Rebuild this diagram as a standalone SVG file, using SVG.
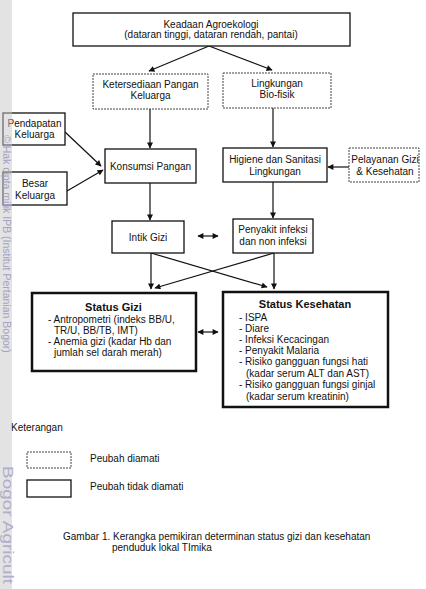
<svg xmlns="http://www.w3.org/2000/svg" width="426" height="589" viewBox="0 0 426 589">
<defs>
<style>
text{font-family:"Liberation Sans",Arial,sans-serif;font-size:10px;fill:#111}
.c{text-anchor:middle}
.b{font-weight:bold;font-size:11px}
.box{fill:#fff;stroke:#111;stroke-width:1.3}
.dash{fill:#fff;stroke:#444;stroke-width:1;stroke-dasharray:2 1}
.thick{fill:#fff;stroke:#111;stroke-width:2.5}
.ln{stroke:#111;stroke-width:1.2;fill:none}
.wm{fill:#a4a2c2;font-size:10.5px}
</style>
<marker id="ah" viewBox="0 0 10 10" refX="9" refY="5" markerWidth="7" markerHeight="6" markerUnits="userSpaceOnUse" orient="auto-start-reverse">
<path d="M0,0 L10,5 L0,10 z" fill="#111"/>
</marker>
</defs>
<rect x="0" y="0" width="426" height="589" fill="#fff"/>

<g id="connectors">
<line class="ln" x1="209" y1="46" x2="149" y2="71" marker-end="url(#ah)"/>
<line class="ln" x1="209" y1="46" x2="272" y2="70" marker-end="url(#ah)"/>
<line class="ln" x1="150" y1="109" x2="150" y2="148" marker-end="url(#ah)"/>
<line class="ln" x1="273" y1="108" x2="273" y2="147" marker-end="url(#ah)"/>
<line class="ln" x1="65" y1="132" x2="101" y2="166" marker-end="url(#ah)"/>
<line class="ln" x1="67" y1="191" x2="103" y2="170" marker-end="url(#ah)"/>
<line class="ln" x1="349" y1="167" x2="328" y2="167" marker-end="url(#ah)"/>
<line class="ln" x1="150" y1="183" x2="150" y2="220" marker-end="url(#ah)"/>
<line class="ln" x1="273" y1="182" x2="273" y2="218" marker-end="url(#ah)"/>
<line class="ln" x1="198" y1="236" x2="218" y2="236" marker-start="url(#ah)" marker-end="url(#ah)"/>
<line class="ln" x1="151" y1="253" x2="151" y2="289" marker-end="url(#ah)"/>
<line class="ln" x1="274" y1="253" x2="274" y2="289" marker-end="url(#ah)"/>
<line class="ln" x1="151" y1="253" x2="267" y2="287" marker-end="url(#ah)"/>
<line class="ln" x1="274" y1="253" x2="155" y2="288" marker-end="url(#ah)"/>
<line class="ln" x1="198" y1="332" x2="218" y2="332" marker-start="url(#ah)" marker-end="url(#ah)"/>
</g>

<g id="agroekologi">
<rect class="box" x="73" y="13" width="277" height="33"/>
<text class="c" x="211" y="27.5">Keadaan Agroekologi</text>
<text class="c" x="211" y="38">(dataran tinggi, dataran rendah, pantai)</text>
</g>
<g id="ketersediaan">
<rect class="dash" x="93" y="74" width="115" height="35"/>
<text class="c" x="150.5" y="87.5">Ketersediaan Pangan</text>
<text class="c" x="150.5" y="99">Keluarga</text>
</g>
<g id="lingkungan">
<rect class="dash" x="223" y="73" width="108" height="35"/>
<text class="c" x="277" y="86.5">Lingkungan</text>
<text class="c" x="277" y="98">Bio-fisik</text>
</g>
<g id="pendapatan">
<rect class="box" x="3" y="113" width="62" height="32"/>
<text class="c" x="34.5" y="126.5">Pendapatan</text>
<text class="c" x="34.5" y="138">Keluarga</text>
</g>
<g id="besar">
<rect class="box" x="3" y="172" width="64" height="33"/>
<text class="c" x="35" y="186.5">Besar</text>
<text class="c" x="35" y="198.5">Keluarga</text>
</g>
<g id="konsumsi">
<rect class="box" x="105" y="149" width="91" height="34"/>
<text class="c" x="150.5" y="169.5">Konsumsi Pangan</text>
</g>
<g id="higiene">
<rect class="box" x="223" y="148" width="104" height="34"/>
<text class="c" x="275" y="162.5">Higiene dan Sanitasi</text>
<text class="c" x="275" y="174.5">Lingkungan</text>
</g>
<g id="pelayanan">
<rect class="dash" x="349" y="148" width="70" height="34"/>
<text class="c" x="385" y="162.5">Pelayanan Gizi</text>
<text class="c" x="385" y="174.5">&amp; Kesehatan</text>
</g>
<g id="intik">
<rect class="box" x="112" y="221" width="72" height="32"/>
<text class="c" x="148" y="240.5">Intik Gizi</text>
</g>
<g id="penyakit">
<rect class="box" x="233" y="219" width="80" height="34"/>
<text class="c" x="273" y="232.5">Penyakit infeksi</text>
<text class="c" x="273" y="244.5">dan non infeksi</text>
</g>
<g id="status-gizi">
<rect class="thick" x="32" y="293" width="164" height="78"/>
<text class="c b" x="113.5" y="311">Status Gizi</text>
<text x="48" y="322.5">- Antropometri (indeks BB/U,</text>
<text x="54" y="333.5">TR/U, BB/TB, IMT)</text>
<text x="48" y="344.5">- Anemia gizi (kadar Hb dan</text>
<text x="54" y="355.5">jumlah sel darah merah)</text>
</g>
<g id="status-kesehatan">
<rect class="thick" x="223" y="292" width="165" height="115"/>
<text class="c b" x="305" y="308">Status Kesehatan</text>
<text x="239" y="320.5">- ISPA</text>
<text x="239" y="331.5">- Diare</text>
<text x="239" y="342.5">- Infeksi Kecacingan</text>
<text x="239" y="353.5">- Penyakit Malaria</text>
<text x="239" y="365">- Risiko gangguan fungsi hati</text>
<text x="246" y="376.5">(kadar serum ALT dan AST)</text>
<text x="239" y="388">- Risiko gangguan fungsi ginjal</text>
<text x="246" y="399.5">(kadar serum kreatinin)</text>
</g>
<g id="legend">
<text x="11" y="430.5">Keterangan</text>
<rect class="dash" x="27" y="452" width="44" height="16"/>
<text x="90" y="461.5">Peubah diamati</text>
<rect class="box" x="27" y="480" width="44" height="17"/>
<text x="90" y="489.5">Peubah tidak diamati</text>
</g>
<g id="caption">
<text x="63" y="539.5">Gambar 1. Kerangka pemikiran determinan status gizi dan kesehatan</text>
<text x="112" y="550.5">penduduk lokal TImika</text>
</g>

<g id="watermark">
<rect x="0" y="0" width="12" height="589" fill="#c8c8c8" fill-opacity="0.5"/>
<text class="wm" transform="translate(3,135) rotate(90)">© Hak cipta milik IPB (Institut Pertanian Bogor)</text>
<text class="wm" style="font-size:14.5px;fill:#b0aecb" transform="translate(3.4,466) rotate(90)" textLength="118" lengthAdjust="spacingAndGlyphs">Bogor Agricult</text>
</g>
</svg>
